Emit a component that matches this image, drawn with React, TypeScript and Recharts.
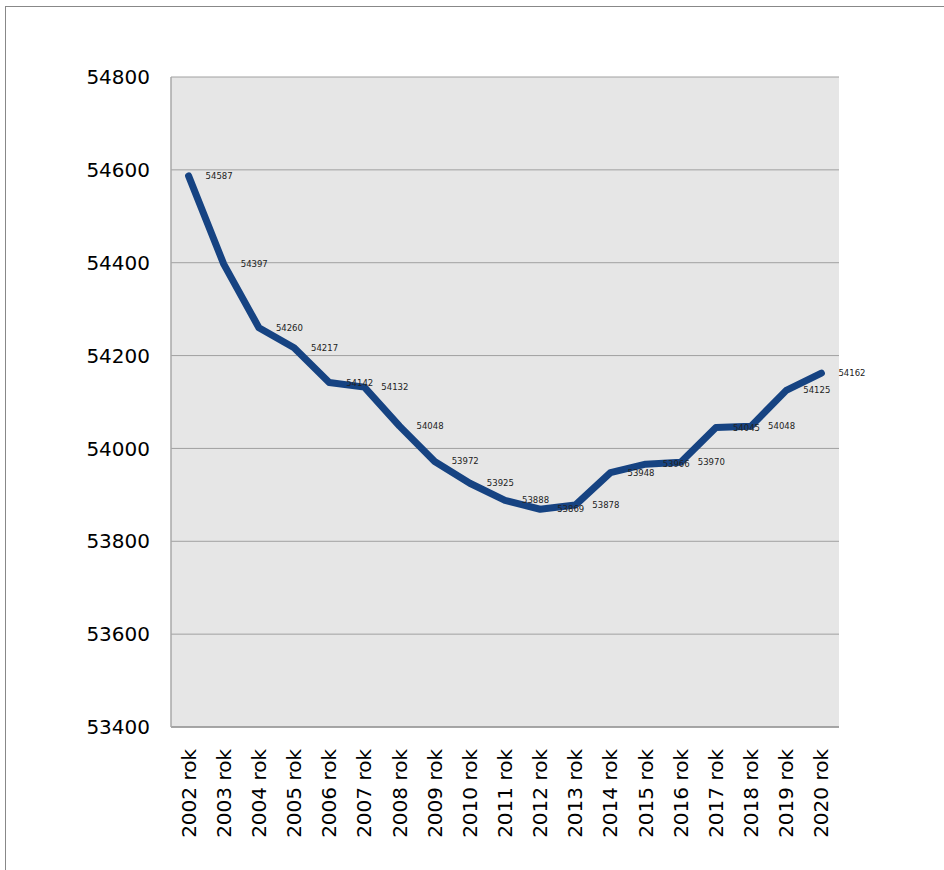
import React from "react";
import { ComposedChart, Line, XAxis, YAxis, CartesianGrid, LabelList } from "recharts";

const categories = [
  "2002 rok", "2003 rok", "2004 rok", "2005 rok", "2006 rok", "2007 rok", "2008 rok",
  "2009 rok", "2010 rok", "2011 rok", "2012 rok", "2013 rok", "2014 rok", "2015 rok",
  "2016 rok", "2017 rok", "2018 rok", "2019 rok", "2020 rok",
];
const values = [
  54587, 54397, 54260, 54217, 54142, 54132, 54048, 53972, 53925, 53888, 53869,
  53878, 53948, 53966, 53970, 54045, 54048, 54125, 54162,
];
const yTicks = [53400, 53600, 53800, 54000, 54200, 54400, 54600, 54800];

const data = categories.map((c, i) => ({ name: c, value: values[i] }));

const FONT = "'DejaVu Sans', sans-serif";

const XTick = (props: any) => {
  const { x, y, payload } = props;
  return (
    <text
      x={0}
      y={0}
      transform={`translate(${x},${y + 14}) rotate(-90)`}
      textAnchor="end"
      dominantBaseline="central"
      fontFamily={FONT}
      fontSize={20}
      fill="#000"
    >
      {payload.value}
    </text>
  );
};

const PointLabel = (props: any) => {
  const { x, y, value } = props;
  return (
    <text
      x={x + 17}
      y={y}
      dominantBaseline="central"
      fontFamily={FONT}
      fontSize={8.5}
      fill="#222"
    >
      {value}
    </text>
  );
};

export default function App() {
  return (
    <div
      style={{
        position: "absolute",
        left: 5,
        top: 6,
        width: 939,
        height: 864,
        borderLeft: "1px solid #888",
        borderTop: "1px solid #888",
        background: "#fff",
      }}
    >
      <ComposedChart
        width={938}
        height={863}
        data={data}
        margin={{ top: 70, right: 105, left: 0, bottom: 35 }}
      >
        <CartesianGrid vertical={false} stroke="#a0a0a0" fill="#e6e6e6" strokeWidth={1} />
        <XAxis
          dataKey="name"
          scale="band"
          interval={0}
          height={108}
          tick={<XTick />}
          tickLine={false}
          axisLine={{ stroke: "#999", strokeWidth: 1.5 }}
        />
        <YAxis
          domain={[53400, 54800]}
          ticks={yTicks}
          width={165}
          tickLine={false}
          tickSize={0}
          tickMargin={21}
          axisLine={{ stroke: "#a8a8a8", strokeWidth: 1.5 }}
          tick={{ fontFamily: FONT, fontSize: 20, fill: "#000" }}
          interval={0}
        />
        <Line
          type="linear"
          dataKey="value"
          stroke="#164382"
          strokeWidth={7}
          strokeLinecap="round"
          strokeLinejoin="round"
          dot={false}
          activeDot={false}
          isAnimationActive={false}
        >
          <LabelList dataKey="value" content={<PointLabel />} />
        </Line>
      </ComposedChart>
    </div>
  );
}
